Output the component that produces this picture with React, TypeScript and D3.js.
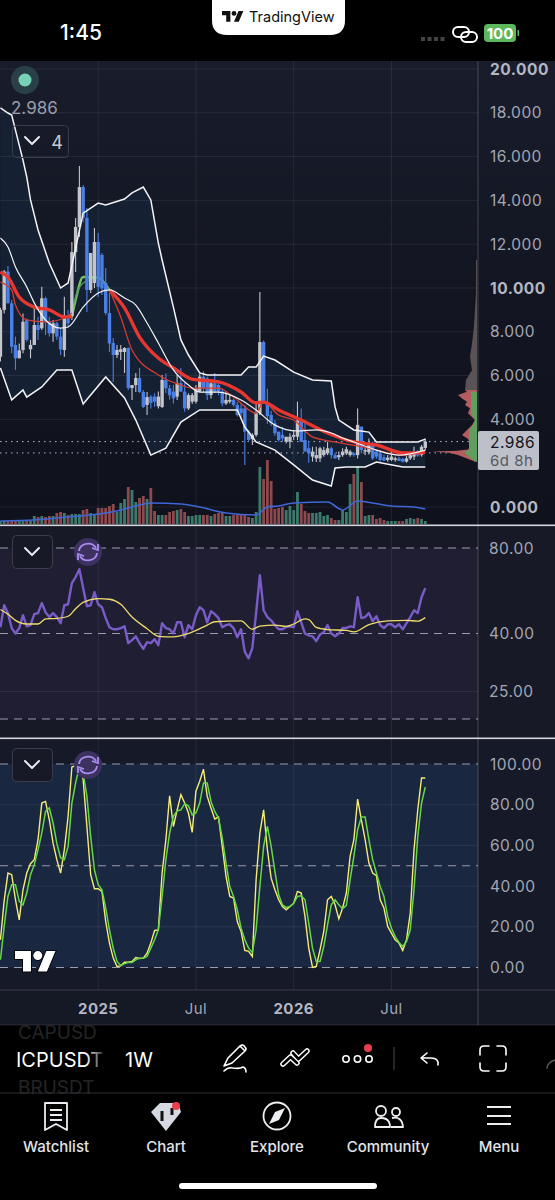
import React from "react";
import * as d3 from "d3";

const opens = [6.86,9.0,10.75,9.3,7.4,6.79,7.17,8.54,7.2,7.4,8.31,8.16,9.53,8.46,7.93,8.39,7.78,7.17,8.61,8.72,11.64,12.79,14.61,13.2,9.91,10.23,12.1,11.51,10.23,8.86,7.49,6.94,7.08,7.08,7.26,5.43,5.57,5.89,5.25,4.66,5.04,5.04,4.6,4.57,5.8,5.42,5.27,5.04,5.65,5.27,4.5,4.81,4.81,5.27,5.95,5.87,5.11,5.65,5.57,5.27,4.73,4.81,4.89,4.66,4.5,4.5,3.44,3.1,3.29,4.28,7.53,4.79,4.2,3.82,3.44,3.29,2.98,2.98,3.21,3.21,4.0,3.06,2.68,2.3,2.22,2.22,2.37,2.45,2.68,2.37,2.27,2.37,2.45,2.37,2.45,2.37,3.67,2.53,2.5,2.91,2.53,2.45,2.27,2.15,2.15,2.15,2.22,2.2,2.07,2.22,2.3,2.53,2.37,2.7];
const highs = [9.1,10.82,11.0,9.45,7.78,7.47,8.84,8.61,7.63,9.07,8.69,10.06,9.6,8.69,8.54,8.46,8.16,9.6,9.0,12.1,13.2,15.57,14.7,13.65,11.6,12.74,12.51,11.6,10.91,9.77,7.72,7.4,7.4,7.3,7.3,5.57,6.12,6.35,5.34,5.25,5.1,5.19,5.27,6.03,6.1,5.57,5.57,6.03,6.35,5.65,5.19,5.2,5.57,6.1,6.2,5.95,5.72,6.12,5.7,5.42,5.27,5.11,4.96,4.81,4.73,4.66,3.52,3.37,4.73,9.82,7.6,5.4,4.4,3.97,3.44,3.67,3.2,3.37,3.52,4.81,4.5,3.82,3.0,2.75,2.75,2.75,2.75,2.98,2.75,2.45,2.53,2.68,2.75,2.6,2.5,4.5,3.67,2.75,3.13,2.98,2.6,2.6,2.4,2.37,2.53,2.3,2.3,2.25,2.37,2.53,2.75,2.6,2.83,3.13];
const lows = [6.64,8.84,9.3,7.02,6.26,6.79,7.02,7.55,6.79,7.4,7.63,8.08,7.85,7.78,7.55,7.63,6.94,6.86,8.2,8.54,10.73,12.33,13.0,8.9,9.77,10.0,9.59,9.68,8.77,7.08,5.71,6.8,6.71,6.12,5.34,4.89,5.25,5.21,4.52,4.2,4.5,4.58,4.5,4.52,5.2,4.9,4.73,4.89,5.25,4.35,4.43,4.7,4.73,5.25,5.2,4.89,4.96,5.2,5.1,4.6,4.66,4.73,4.58,4.13,4.05,1.92,2.98,2.83,3.21,4.2,4.7,3.8,3.7,3.25,2.98,2.98,2.9,2.68,3.06,3.06,2.98,2.53,2.02,2.07,2.05,2.05,2.3,2.37,2.22,2.2,2.15,2.3,2.37,2.3,2.3,2.22,2.45,2.37,2.4,2.15,2.2,2.07,2.1,2.07,2.1,2.07,2.1,2.03,2.02,2.15,2.15,2.3,2.3,2.6];
const closes = [9.0,10.75,9.3,7.32,6.79,7.15,8.46,7.63,7.4,8.31,8.08,9.53,8.46,7.93,8.39,7.78,7.2,8.61,8.39,11.64,12.79,14.61,13.2,9.91,11.6,12.1,10.05,9.98,8.86,7.47,6.94,7.17,7.2,7.26,5.43,5.57,5.89,5.25,4.57,5.02,4.75,4.81,5.04,5.8,5.42,5.1,4.96,5.65,5.27,4.5,5.11,5.11,5.42,5.95,5.42,5.11,5.65,5.27,5.27,4.73,4.89,4.89,4.66,4.2,4.28,3.44,3.06,3.29,4.28,7.53,4.79,4.15,3.82,3.37,3.06,3.13,3.21,3.21,3.29,3.95,2.98,2.53,2.45,2.53,2.37,2.68,2.6,2.68,2.37,2.22,2.37,2.53,2.64,2.53,2.37,3.75,2.6,2.6,2.91,2.22,2.3,2.15,2.12,2.25,2.3,2.22,2.1,2.07,2.22,2.37,2.45,2.35,2.75,2.986];
const volumes = [3,3,3,3,3,3,3,3,3,8,7,8,7,8,8,11,12,11,9,10,10,10,14,15,11,10,16,16,16,18,20,12,21,25,37,34,22,26,28,25,36,13,9,9,9,12,13,14,15,12,8,8,9,9,9,9,8,10,11,11,8,8,9,9,10,10,7,6,12,57,45,64,43,15,16,17,14,18,14,32,20,13,11,11,11,12,8,9,6,4,4,14,12,40,50,58,42,8,9,9,5,6,4,3,3,3,3,3,5,6,5,6,5,3];
const volMaWeeks = [0,9,18,26,31,35,40,48,53,60,68,71,74,78,87,91,95,99,104,110,113];
const volMaValues = [3,4,7,10,13,17,21,20,17,11,9,17,18,21,22,14,23,21,18,17,15];

const upperWeeks = [0,2,3,4,6,7,8,10,13,16,18,22,26,28,33,35,38,40,42,43,46,48,50,53,55,64,66,68,70,73,78,83,88,89,90,94,98,100,111,113];
const upperValues = [18.22,17.99,17.9,17.21,15.84,15.07,14.02,12.65,11.14,10.0,10.23,13.42,13.88,13.79,14.06,14.34,14.61,14.02,12.05,11.28,9.13,7.63,6.94,6.12,6.03,6.03,6.39,6.39,6.89,6.71,6.16,5.8,5.75,4.57,3.97,3.52,3.42,2.97,2.97,3.1];
const lowerWeeks = [0,3,6,7,11,15,19,22,28,33,36,40,44,48,53,63,65,68,73,78,83,88,89,92,97,100,107,113];
const lowerValues = [6.35,4.89,5.34,5.02,5.48,6.26,6.26,4.7,5.94,4.98,3.97,2.37,2.69,3.88,4.43,4.43,3.65,2.97,2.6,1.92,1.23,0.96,1.78,1.83,1.83,2.05,1.83,1.83];
const basisWeeks = [0,2,4,7,9,12,16,18,22,26,29,33,36,39,42,46,50,53,58,64,68,73,79,84,88,91,94,100,106,113];
const basisValues = [12.28,11.87,10.96,10.05,9.32,8.54,8.17,8.22,9.13,9.77,9.91,9.54,9.22,8.4,7.49,6.26,5.57,5.25,5.25,4.89,4.43,3.74,3.47,3.52,3.38,3.15,2.97,2.6,2.37,2.6];
const slowWeeks = [0,2,5,9,13,17,19,20,22,26,29,33,37,42,46,51,58,64,68,70,74,80,87,94,100,107,111,113];
const slowValues = [10.73,10.5,9.59,9.13,9.0,8.68,8.68,9.45,10.5,10.46,9.91,9.09,7.76,6.8,6.35,5.84,5.71,5.25,4.75,4.79,4.43,3.97,3.38,2.97,2.83,2.47,2.47,2.51];
const fastWeeks = [0,3,4,7,12,17,19,20,22,26,29,32,35,42,48,51,58,62,68,70,74,78,83,89,98,107,111];
const fastValues = [10.27,9.91,9.22,8.54,8.45,8.63,8.86,9.59,10.23,10.46,9.91,8.68,7.17,6.03,5.57,5.43,5.43,5.02,4.29,4.79,4.2,3.97,3.2,2.97,2.69,2.37,2.51];
const greenFrom = 19;
const greenTo = 29;

const rsiValues = [42.1,50.3,47.2,41.8,40,41.8,46.4,42.4,42.8,46.8,47.2,51.2,47.5,45.7,47.2,45.7,43.5,50.3,50.7,60.2,63.2,67.4,57.8,49.9,50.3,55.9,50.7,49.5,45.3,42.1,41.4,41.4,41.8,42.4,37,37.9,39.1,37,35.3,37.3,37,38.2,36.4,43.5,41.8,41.4,40,43.8,43.8,38.8,42.8,41.4,46.4,49.5,48.3,43.8,47.9,46.8,45.3,42.1,42.8,43.1,41.8,38.8,41.4,34.5,32.7,35.6,47.2,64.2,48.3,45.7,44.5,42.8,41.4,41.4,42.1,42.4,42.1,47.9,43.8,40,39.4,39.1,37.6,39.7,40.4,42.8,40,39.1,40,41.8,41.8,42.4,42.1,53.7,45.3,45.7,47.2,44.2,46,42.8,41.8,43.1,43.1,42.1,43.1,41.4,43.5,45.7,48.3,47.2,53.7,57.8];
const rsiMaWeeks = [0,2,4,7,10,12,15,18,20,22,26,29,32,35,39,42,46,50,55,57,64,67,69,73,76,78,81,82,84,87,92,94,98,103,108,111,113];
const rsiMaValues = [48.6,46.8,44.5,43.2,43.2,45,45.2,46,48.9,51.5,53.1,52.8,50.7,45.7,41.6,39.1,38.9,40,42.8,44,44.3,41.4,42.5,42.8,42.4,43.2,45,44.8,42,41.3,41,40.5,43,44.3,44.5,44.2,45.5];

const stochK = [13.6,33,46.4,45.6,33.3,23.4,38.2,46.4,51,53,62.8,80.8,81.6,72.6,61.1,53,46.4,57.9,74.3,98.5,99.2,100,92.3,69.3,45.6,38.7,38.7,37.4,22.6,12,4.6,0.5,0.8,2.6,2.6,3,4.9,4.4,4.6,7,12,18.2,18.5,46.4,62.8,84.4,69.3,77.5,84.9,80.8,75.9,66.4,86.6,91.5,97.5,84.1,78.4,73,73.9,59.5,44.8,34.9,34.1,22.6,17.7,8.4,7.9,5.4,43.1,66,77.5,57.9,43.9,38.2,33.3,30,28.4,30,31.6,37.4,36.6,25.1,9.5,0,0.5,8.7,17.7,33.3,34.9,30.8,23.9,29.2,36.6,54.6,62.8,82.8,72.6,62.8,51.3,46.4,45.1,33.3,29.2,20.2,16.9,13.6,12,8.4,13.6,26.7,57.9,77.5,93.1,93.1];
const stochD = [3.8,20.2,35,40.7,40.7,32.5,30.8,36.6,45.6,50.5,57.9,66,76.7,78.4,71,61,53.8,53,59.5,80.8,90.7,98.9,95.6,84.1,64.4,48,40.7,38.2,29.2,18.5,9.5,3,1,1.8,2.5,2.5,3.8,4.6,4.6,5.4,9.5,13.6,18.5,34.9,53,66,74.3,77,77.5,80.5,79.5,75,75.9,80.8,90.7,90.7,81.6,76.7,73.4,63.6,51.3,39.8,34.9,28.4,19.3,13.6,9.5,7.4,18.5,39.8,59.5,69.3,59.5,47.2,35.7,30.8,29.5,30,31.6,34.9,35.2,33.3,21.8,9.5,3,3,10.3,21,30.8,33.3,30.8,28.9,30.5,43.1,54.6,67.7,73.9,73.9,62.8,53,46.4,39.8,34.9,25.1,19.3,15.2,12.3,10.3,12.8,18.5,38.2,64.4,80.8,88.7];

const profileLevels = [11.28,10.52,9.75,8.99,8.23,7.47,6.86,6.26,5.8,5.34,5.26,5.11,4.96,4.81,4.66,4.51,4.28,3.97,3.74,3.52,3.29,3.14,2.91,2.75,2.63,2.57,2.53,2.48,2.37,2.22,2.07];
const profileTotal = [1,1,1,2,3,5,7,5,11,12,10,19,15,10,12,7,9,2,5,10,15,10,5,7,9,20,45,28,19,10,2];
const profileGreen = [0,0,0,0,0,0,0,0,0,0,6,6,6,6,6,6,6,2,4,8,8,8,8,8,8,10,13,12,10,6,1];

const priceTicks = [20,18,16,14,12,10,8,6,4,0];
const boldPriceTicks = [20,10,0];
const rsiTicks = [80,40,25];
const rsiDashed = [80,40,20];
const stochTicks = [100,80,60,40,20,0];
const stochDashed = [100,50,0];
const timeTickWeeks = [26,52,78,104];
const timeTickLabels = ["2025","Jul","2026","Jul"];
const boldTimeLabels = ["2025","2026"];
const lastPrice = 2.986;
const lowDotted = 2.47;
const tabLabels = ["Watchlist","Chart","Explore","Community","Menu"];

const F = "Inter, Roboto, sans-serif";
const W = 555, H = 1200, AX = 478;

const x = d3.scaleLinear().domain([0, 113]).range([0.43, 425.3]);
const yP = d3.scaleLinear().domain([0, 20]).range([507, 69]);
const yV = d3.scaleLinear().domain([0, 64]).range([524, 460]);
const yR = d3.scaleLog().domain([20, 80]).range([719, 548]);
const yS = d3.scaleLinear().domain([0, 100]).range([967.5, 764]);
const xProf = d3.scaleLinear().domain([0, 45]).range([477, 432]);

type P = [number, number];
const zip = (a: number[], b: number[]): P[] => a.map((w, i) => [w, b[i]]);
const linePath = (pts: P[], y: (v: number) => number, curve: any = d3.curveLinear) =>
  d3.line<P>().x((d) => x(d[0])).y((d) => y(d[1])).curve(curve)(pts) || "";

const upper = zip(upperWeeks, upperValues);
const lower = zip(lowerWeeks, lowerValues);
const basis = zip(basisWeeks, basisValues);
const slow = zip(slowWeeks, slowValues);
const fast = zip(fastWeeks, fastValues);
const isRed = (p: P) => p[0] <= greenFrom;
const isRed2 = (p: P) => p[0] >= greenTo;
const isGreen = (p: P) => p[0] >= greenFrom && p[0] <= greenTo;

const bandPath = linePath([...upper, ...lower.slice().reverse()], yP) + "Z";
const grid = "rgba(255,255,255,0.075)";
const dash = "#9a9cab";

function Chevron({ cx, cy }: { cx: number; cy: number }) {
  return <path d={`M${cx - 7} ${cy - 4}L${cx} ${cy + 3}L${cx + 7} ${cy - 4}`} fill="none" stroke="#e8e9ee" strokeWidth={2} strokeLinecap="round" strokeLinejoin="round" />;
}
function Sync({ cx, cy }: { cx: number; cy: number }) {
  return (
    <g>
      <circle cx={cx} cy={cy} r={14} fill="#3d3160" />
      <path d={`M${cx - 9} ${cy - 1}A9 8 0 0 1 ${cx + 8} ${cy - 4}M${cx + 9} ${cy + 1}A9 8 0 0 1 ${cx - 8} ${cy + 4}`} fill="none" stroke="#a88cf0" strokeWidth={1.8} />
      <path d={`M${cx + 4} ${cy - 4}L${cx + 10} ${cy - 2}L${cx + 10} ${cy - 8}M${cx - 4} ${cy + 4}L${cx - 10} ${cy + 2}L${cx - 10} ${cy + 8}`} fill="none" stroke="#a88cf0" strokeWidth={1.8} />
    </g>
  );
}
const TVPATH = "M14 22H7V11H0V4h14v18zM28 22h-8l7.5-18h8L28 22z";

export default function App() {
  const profRows = profileLevels.map((l, i) => ({ l, t: profileTotal[i], g: profileGreen[i] }));
  const profArea = (rows: typeof profRows, key: "t" | "g") =>
    d3.area<(typeof profRows)[number]>().y((d) => yP(d.l)).x0(xProf(0)).x1((d) => xProf(d[key])).curve(d3.curveLinear)(rows) || "";
  const profGrey = profRows.filter((r) => r.l >= 5.34);
  const profRed = profRows.filter((r) => r.l <= 5.34);
  const profGreen = profRows.filter((r) => r.l <= 5.26);

  return (
    <svg width={W} height={H} viewBox={`0 0 ${W} ${H}`} style={{ position: "absolute", left: 0, top: 0, display: "block", background: "#000", fontFamily: F }}>
      <defs>
        <linearGradient id="bgMain" x1="0" x2="0" y1="0" y2="1">
          <stop offset="0" stopColor="#191d2b" />
          <stop offset="0.35" stopColor="#141724" />
          <stop offset="1" stopColor="#0f111c" />
        </linearGradient>
        <linearGradient id="fade" x1="0" x2="1" y1="0" y2="0">
          <stop offset="0.8" stopColor="#fff" />
          <stop offset="1" stopColor="#333" />
        </linearGradient>
        <clipPath id="cMain"><rect x={0} y={61} width={AX - 1} height={464} /></clipPath>
      </defs>

      <rect x={0} y={61} width={W} height={464} fill="url(#bgMain)" />
      <rect x={0} y={526} width={W} height={212} fill="#171926" />
      <rect x={0} y={739} width={W} height={251} fill="#161927" />
      <rect x={0} y={990} width={W} height={35} fill="#151825" />

      {/* pane bands */}
      <rect x={0} y={yR(80)} width={AX} height={yR(20) - yR(80)} fill="#1f1e33" />
      <rect x={0} y={yS(100)} width={AX} height={yS(0) - yS(100)} fill="#1a2740" />
      <path d={bandPath} fill="#152033" clipPath="url(#cMain)" />

      {/* grid */}
      {timeTickWeeks.map((w) => <line key={w} x1={x(w)} x2={x(w)} y1={61} y2={990} stroke={grid} />)}
      {priceTicks.map((t) => <line key={t} x1={0} x2={AX} y1={yP(t)} y2={yP(t)} stroke={grid} />)}
      <line x1={0} x2={AX} y1={yR(25)} y2={yR(25)} stroke={grid} />
      {stochTicks.filter((t) => t % 100 !== 0).map((t) => <line key={t} x1={0} x2={AX} y1={yS(t)} y2={yS(t)} stroke={grid} />)}
      {rsiDashed.map((t) => <line key={t} x1={0} x2={AX} y1={yR(t)} y2={yR(t)} stroke={dash} strokeWidth={1.2} strokeDasharray="8 6" />)}
      {stochDashed.map((t) => <line key={t} x1={0} x2={AX} y1={yS(t)} y2={yS(t)} stroke={dash} strokeWidth={1.2} strokeDasharray="8 6" />)}
      <line x1={AX} x2={AX} y1={61} y2={1025} stroke="rgba(255,255,255,0.2)" />
      <line x1={0} x2={W} y1={990} y2={990} stroke="rgba(255,255,255,0.16)" />
      <line x1={0} x2={W} y1={1025} y2={1025} stroke="rgba(255,255,255,0.12)" />

      <g clipPath="url(#cMain)">
        {/* volume */}
        {volumes.map((v, i) => (
          <rect key={i} x={x(i) - 1.4} width={2.8} y={yV(v)} height={yV(0) - yV(v)} fill={closes[i] >= opens[i] ? "#3d7a6b" : "#8c4a4e"} />
        ))}
        <path d={linePath(zip(volMaWeeks, volMaValues), yV, d3.curveMonotoneX)} fill="none" stroke="#3f66d8" strokeWidth={1.6} />

        {/* dotted lines */}
        <line x1={0} x2={AX} y1={yP(lastPrice)} y2={yP(lastPrice)} stroke="#b9bcc8" strokeDasharray="1.5 4" />
        <line x1={0} x2={AX} y1={yP(lowDotted)} y2={yP(lowDotted)} stroke="#9fb2dc" strokeDasharray="1.5 4" />

        {/* green stretch of the moving averages runs behind the candles */}
        <path d={linePath(slow.filter(isGreen), yP, d3.curveMonotoneX)} fill="none" stroke="#79c25c" strokeWidth={2.4} />
        <path d={linePath(fast.filter(isGreen), yP, d3.curveMonotoneX)} fill="none" stroke="#4f9c6a" strokeWidth={1.3} />

        {/* candles */}
        {opens.map((o, i) => {
          const c = closes[i];
          const col = c >= o ? "#c4c5ca" : "#4a80e6";
          const top = yP(Math.max(o, c));
          return (
            <g key={i}>
              <line x1={x(i)} x2={x(i)} y1={yP(highs[i])} y2={yP(lows[i])} stroke={col} strokeWidth={1.1} />
              <rect x={x(i) - 1.7} width={3.4} y={top} height={Math.max(1, yP(Math.min(o, c)) - top)} fill={col} />
            </g>
          );
        })}

        {/* moving averages */}
        <path d={linePath(slow.filter(isRed), yP, d3.curveMonotoneX)} fill="none" stroke="#e8372f" strokeWidth={3.4} />
        <path d={linePath(slow.filter(isRed2), yP, d3.curveMonotoneX)} fill="none" stroke="#e8372f" strokeWidth={3.4} />
        <path d={linePath(fast.filter(isRed), yP, d3.curveMonotoneX)} fill="none" stroke="#d93a30" strokeWidth={1.3} />
        <path d={linePath(fast.filter(isRed2), yP, d3.curveMonotoneX)} fill="none" stroke="#d93a30" strokeWidth={1.3} />

        {/* Bollinger */}
        <path d={linePath(upper, yP)} fill="none" stroke="#f4f5f7" strokeWidth={1.5} />
        <path d={linePath(lower, yP)} fill="none" stroke="#f4f5f7" strokeWidth={1.5} />
        <path d={linePath(basis, yP, d3.curveMonotoneX)} fill="none" stroke="#f4f5f7" strokeWidth={1.2} />
      </g>

      {/* volume profile */}
      <path d={profArea(profRed, "t")} fill="#b55c60" />
      <path d={profArea(profGrey, "t")} fill="#5a5254" />
      <path d={profArea(profGreen, "g")} fill="#5f9e5e" />

      {/* RSI */}
      <path d={linePath(zip(rsiValues.map((_, i) => i), rsiValues), yR)} fill="none" stroke="#7a5cc8" strokeWidth={2.4} strokeLinejoin="round" />
      <path d={linePath(zip(rsiMaWeeks, rsiMaValues), yR, d3.curveMonotoneX)} fill="none" stroke="#f0dc6e" strokeWidth={1.3} />

      {/* Stochastic */}
      <path d={linePath(zip(stochK.map((_, i) => i), stochK), yS)} fill="none" stroke="#f4ec74" strokeWidth={1.4} />
      <path d={linePath(zip(stochD.map((_, i) => i), stochD), yS)} fill="none" stroke="#66d843" strokeWidth={1.5} />

      {/* separators */}
      <rect x={0} y={524.5} width={W} height={1.6} fill="#d5d7de" />
      <rect x={0} y={737.5} width={W} height={1.6} fill="#d5d7de" />

      {/* axis labels */}
      <g fontSize={15.5} letterSpacing={0.5} fill="#a3a6b3" dominantBaseline="central">
        {priceTicks.map((t) => (
          <text key={t} x={490} y={yP(t)} fontWeight={boldPriceTicks.includes(t) ? 700 : 400} fill={boldPriceTicks.includes(t) ? "#b4b7c3" : "#a3a6b3"}>{t.toFixed(3)}</text>
        ))}
        {rsiTicks.map((t) => <text key={t} x={489} y={yR(t)}>{t.toFixed(2)}</text>)}
        {stochTicks.map((t) => <text key={t} x={490} y={yS(t)}>{t.toFixed(2)}</text>)}
      </g>
      <g fontSize={15} textAnchor="middle" dominantBaseline="central" letterSpacing={0.4}>
        {timeTickWeeks.map((w, i) => (
          <text key={w} x={x(w)} y={1008} fill={boldTimeLabels.includes(timeTickLabels[i]) ? "#b4b7c3" : "#a3a6b3"} fontWeight={boldTimeLabels.includes(timeTickLabels[i]) ? 700 : 400}>{timeTickLabels[i]}</text>
        ))}
      </g>

      {/* price label */}
      <rect x={478} y={431} width={61} height={39} rx={2} fill="#bdc0c8" />
      <text x={490} y={442} fontSize={15.5} letterSpacing={0.5} fill="#14161f" dominantBaseline="central">{lastPrice.toFixed(3)}</text>
      <text x={490} y={460} fontSize={15} letterSpacing={0.5} fill="#555862" dominantBaseline="central">6d 8h</text>

      {/* overlays */}
      <circle cx={25} cy={80} r={14} fill="#2a4048" />
      <circle cx={25} cy={80} r={6.5} fill="#78d2b8" />
      <text x={11} y={108} fontSize={17} fill="#9a9da9" dominantBaseline="central">{lastPrice.toFixed(3)}</text>
      <rect x={12.5} y={125.5} width={56} height={32} rx={4} fill="none" stroke="#3a3e4c" />
      <Chevron cx={32} cy={141} />
      <text x={57} y={142} fontSize={18} fill="#c8cad2" textAnchor="middle" dominantBaseline="central">4</text>

      <rect x={12.5} y={535.5} width={40} height={33} rx={4} fill="#171926" stroke="#3a3e4c" />
      <Chevron cx={32} cy={552} />
      <Sync cx={88} cy={552} />
      <rect x={12.5} y={748.5} width={40} height={33} rx={4} fill="#171926" stroke="#3a3e4c" />
      <Chevron cx={32} cy={765} />
      <Sync cx={88} cy={765} />

      <path d={TVPATH} transform="translate(15 946.5) scale(1.14)" fill="#fff" stroke="#000" strokeWidth={1.6} paintOrder="stroke" />
      <circle cx={15 + 20 * 1.14} cy={946.5 + 8 * 1.14} r={4.5} fill="#fff" stroke="#000" strokeWidth={1.6} paintOrder="stroke" />

      {/* status bar */}
      <text x={81} y={32} fontSize={21} fontWeight={500} fill="#fff" textAnchor="middle" dominantBaseline="central">1:45</text>
      <path d="M212 0H345V20Q345 35 330 35H227Q212 35 212 20Z" fill="#fff" />
      <path d={TVPATH} transform="translate(222 8.6) scale(0.6)" fill="#111" />
      <circle cx={234} cy={13.4} r={2.4} fill="#111" />
      <text x={249} y={16.5} fontSize={14.5} fill="#111" dominantBaseline="central">TradingView</text>
      {[0, 1, 2, 3].map((k) => <rect key={k} x={421 + k * 6.5} y={37} width={4} height={4} fill="#444" />)}
      <g fill="none" stroke="#fff" strokeWidth={2}>
        <rect x={453} y={27} width={16} height={10} rx={5} />
        <rect x={461} y={32} width={16} height={10} rx={5} />
      </g>
      <rect x={484} y={24} width={32} height={18} rx={4} fill="#5cb85c" />
      <text x={500} y={33.5} fontSize={15} fontWeight={700} fill="#fff" textAnchor="middle" dominantBaseline="central">100</text>
      <rect x={517.5} y={30} width={1.5} height={6} fill="#5cb85c" />

      {/* toolbar */}
      <text x={18} y={1032} fontSize={19} fill="#242426" dominantBaseline="central">CAPUSD</text>
      <text x={18} y={1087} fontSize={19} fill="#242426" dominantBaseline="central">BRUSDT</text>
      <rect x={100} y={1026} width={20} height={66} fill="#000" />
      <text x={16} y={1060} fontSize={20} fill="url(#fade)" dominantBaseline="central">ICPUSDT</text>
      <rect x={103} y={1045} width={12} height={30} fill="#000" />
      <text x={125} y={1060} fontSize={20} fill="#fff" dominantBaseline="central">1W</text>

      <g fill="none" stroke="#fff" strokeWidth={1.6} strokeLinecap="round" strokeLinejoin="round">
        <path d="M228 1058L240 1046Q243 1044 245 1047Q247 1049 245 1051L232 1063L224 1066ZM240 1046L245 1051M224 1071Q228 1067 233 1068Q240 1069 243 1067Q246 1068 246 1072" />
        <circle cx={346} cy={1059} r={3.2} />
        <circle cx={357.5} cy={1059} r={3.2} />
        <circle cx={369} cy={1059} r={3.2} />
        <path d="M427 1053L421 1058L427 1063M421 1058H431Q439 1058 438 1065" />
        <path d="M480 1055V1050Q480 1046 484 1046H489M497 1046H502Q506 1046 506 1050V1055M506 1063V1067Q506 1071 502 1071H497M489 1071H484Q480 1071 480 1067V1063" />
        <path d="M547 1068Q548 1062 555 1060" stroke="#555" />
      </g>
      <g fill="none" strokeLinejoin="round" strokeLinecap="round">
        <path d="M283 1064L290.5 1057L297 1063M293 1053L298.5 1059L307 1051" stroke="#fff" strokeWidth={5.5} />
        <path d="M283 1064L290.5 1057L297 1063M293 1053L298.5 1059L307 1051" stroke="#000" strokeWidth={2.6} />
      </g>
      <circle cx={368} cy={1048} r={4} fill="#e8404a" />
      <line x1={394} x2={394} y1={1047} y2={1070} stroke="#333" strokeWidth={1.5} />
      <line x1={0} x2={W} y1={1093} y2={1093} stroke="#2e2e30" />

      {/* tabs */}
      <g fill="none" stroke="#eceef2" strokeWidth={1.8} strokeLinejoin="round">
        <path d="M45 1103H67V1130L56 1124L45 1130Z" />
        <path d="M50 1110H62M50 1115H62M50 1120H62" />
        <circle cx={277} cy={1116} r={13.5} />
        <circle cx={381} cy={1111} r={5} />
        <circle cx={396} cy={1112} r={4} />
        <path d="M375 1127Q375 1118 381 1118Q387 1118 389 1122Q390 1124 390 1127ZM392 1118Q402 1116 403 1127H391" />
        <path d="M487 1107H511M487 1116H511M487 1124H511" />
      </g>
      <path d="M285 1108L279 1120L269 1124L275 1112Z" fill="#eceef2" />
      <path d="M151 1112L160 1103H178L181 1112L166 1131Z" fill="#d6d9e2" />
      <path d="M162 1111V1121M172 1108V1115" stroke="#111" strokeWidth={3} />
      <circle cx={176} cy={1106} r={4} fill="#e8404a" />
      <g fontSize={15} fontWeight={500} fill="#e2e4ea" textAnchor="middle" dominantBaseline="central">
        {tabLabels.map((l, i) => <text key={l} x={[56, 166, 277, 388, 499][i]} y={1146}>{l}</text>)}
      </g>
      <rect x={179} y={1183} width={198} height={6} rx={3} fill="#fff" />
    </svg>
  );
}
